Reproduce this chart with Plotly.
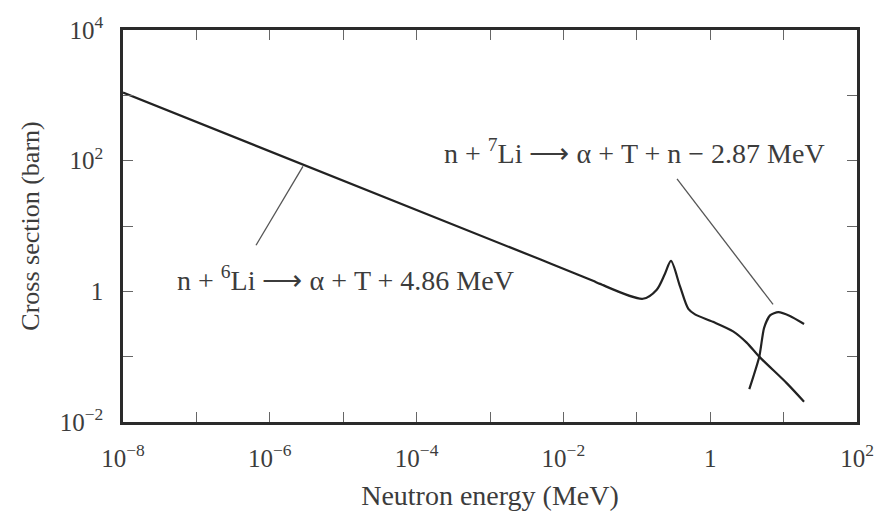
import math
import plotly.graph_objects as go

# n + 6Li -> alpha + T cross section (energy in MeV, cross section in barn)
li6_energy = [1e-8, 4.8e-3, 0.0253, 0.0315, 0.121, 0.187, 0.242, 0.292,
              0.388, 0.504, 0.621, 1.09, 2.05, 3.14, 4.62, 11.1, 19.0]
li6_sigma = [1100, 3.09, 1.45, 1.30, 0.77, 1.06, 1.86, 2.92,
             1.19, 0.538, 0.444, 0.342, 0.244, 0.164, 0.101, 0.039, 0.0204]

# n + 7Li -> alpha + T + n cross section
li7_energy = [3.41, 4.67, 5.41, 6.53, 8.47, 12.2, 19.0]
li7_sigma = [0.0319, 0.101, 0.274, 0.429, 0.480, 0.419, 0.316]

# Leader lines from labels to curves
li6_leader_energy = [2.83e-6, 6.49e-7]
li6_leader_sigma = [81.7, 5.08]
li7_leader_energy = [0.353, 7.18]
li7_leader_sigma = [52.6, 0.63]

# Reaction labels
li6_label = "n + <sup>6</sup>Li \u27f6 \u03b1 + T + 4.86 MeV"
li7_label = "n + <sup>7</sup>Li \u27f6 \u03b1 + T + n \u2212 2.87 MeV"
li6_label_pos = (1.06e-5, 1.55)
li7_label_pos = (0.0944, 140.0)

# Axis ticks (every decade, labels every second decade)
x_decades = list(range(-8, 3))
y_decades = list(range(-2, 5))


def decade_label(k):
    if k == 0:
        return "1"
    exp = str(k).replace("-", "\u2212")
    return f"10<sup>{exp}</sup>"


x_tickvals = [10.0 ** k for k in x_decades]
x_ticktext = [decade_label(k) if k % 2 == 0 else "" for k in x_decades]
y_tickvals = [10.0 ** k for k in y_decades]
y_ticktext = [decade_label(k) if k % 2 == 0 else "" for k in y_decades]

FONT = "Liberation Serif"
TEXT = "#3c3c3c"
CURVE = "#222222"

fig = go.Figure()
fig.add_trace(go.Scatter(x=li6_energy, y=li6_sigma, mode="lines",
                         line=dict(color=CURVE, width=2.2, shape="spline", smoothing=0.8),
                         showlegend=False, hoverinfo="skip"))
fig.add_trace(go.Scatter(x=li7_energy, y=li7_sigma, mode="lines",
                         line=dict(color=CURVE, width=2.2, shape="spline", smoothing=0.6),
                         showlegend=False, hoverinfo="skip"))
fig.add_trace(go.Scatter(x=li6_leader_energy, y=li6_leader_sigma, mode="lines",
                         line=dict(color="#555555", width=1.3),
                         showlegend=False, hoverinfo="skip"))
fig.add_trace(go.Scatter(x=li7_leader_energy, y=li7_leader_sigma, mode="lines",
                         line=dict(color="#555555", width=1.3),
                         showlegend=False, hoverinfo="skip"))

for text, (ex, sy) in [(li6_label, li6_label_pos), (li7_label, li7_label_pos)]:
    fig.add_annotation(x=math.log10(ex), y=math.log10(sy), xref="x", yref="y",
                       text=text, showarrow=False,
                       font=dict(family=FONT, size=28, color=TEXT))

axis_common = dict(
    type="log",
    showline=True, linewidth=2.5, linecolor="#2a2a2a", mirror="allticks",
    ticks="inside", ticklen=10, tickwidth=1.2, tickcolor="#666666",
    showgrid=False, zeroline=False,
    tickfont=dict(family=FONT, size=25, color=TEXT),
)

fig.update_xaxes(**axis_common, range=[-8, 2], tickvals=x_tickvals, ticktext=x_ticktext,
                 ticklabelstandoff=12,
                 title=dict(text="Neutron energy (MeV)", standoff=15,
                            font=dict(family=FONT, size=28, color=TEXT)))
fig.update_yaxes(**axis_common, range=[-2, 4], tickvals=y_tickvals, ticktext=y_ticktext,
                 ticklabelstandoff=12,
                 title=dict(text="Cross section (barn)", standoff=13,
                            font=dict(family=FONT, size=26, color=TEXT)))

fig.update_layout(
    width=890, height=518,
    margin=dict(l=123, r=33, t=23, b=87),
    plot_bgcolor="white", paper_bgcolor="white",
    font=dict(family=FONT, color=TEXT),
)

fig.write_html("out.html")
